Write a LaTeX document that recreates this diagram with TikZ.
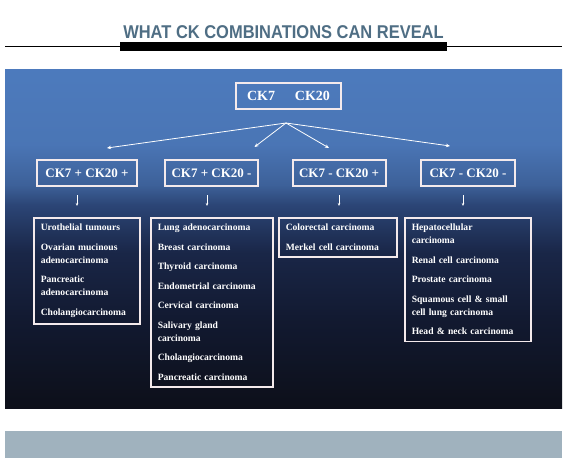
\documentclass[tikz,border=0pt]{standalone}
\usepackage{fontspec}
\setmainfont{Liberation Serif}
\newfontfamily\titlefont{Liberation Sans}[FakeStretch=0.89]
\usetikzlibrary{arrows.meta}
\definecolor{titleblue}{HTML}{4F6E84}
\definecolor{boxline}{HTML}{F4EAEC}
\definecolor{footgrey}{HTML}{A0B2BE}
\pgfdeclareverticalshading{panelfade}{100bp}{rgb(0bp)=(0.05,0.06,0.10); rgb(25bp)=(0.05,0.06,0.10); rgb(38bp)=(0.07,0.10,0.19); rgb(48bp)=(0.10,0.15,0.28); rgb(55bp)=(0.17,0.27,0.46); rgb(58bp)=(0.24,0.38,0.60); rgb(64bp)=(0.29,0.46,0.71); rgb(75bp)=(0.30,0.48,0.74); rgb(100bp)=(0.30,0.48,0.74)}
\tikzset{
  rootbox/.style={draw=boxline, line width=2pt, text=white, font=\bfseries\fontsize{14}{16}\selectfont, minimum width=105pt, minimum height=26pt, inner sep=0pt},
  midbox/.style={draw=boxline, line width=2pt, text=white, font=\bfseries\fontsize{13}{15}\selectfont, minimum height=26pt, inner sep=0pt},
  listbox/.style={draw=boxline, line width=1.5pt, text=white, anchor=north west, align=left, inner xsep=7pt, inner ysep=6.5pt, font=\bfseries\fontsize{9.6}{13}\selectfont},
  fan/.style={draw=white, line width=0.8pt, -{Stealth[length=4pt,width=3.5pt]}},
  drop/.style={draw=white, line width=0.6pt, shorten <=8pt, -{Stealth[length=3pt,width=2.5pt]}}
}
\begin{document}
\begin{tikzpicture}[x=1pt, y=-1pt]
  \useasboundingbox (0,0) rectangle (567,468);
  \fill[white] (0,0) rectangle (567,468);
  \fill[black] (120,42) rectangle (447,51);
  \draw[line width=0.8pt] (5,46) -- (562,46);
  \node[font=\titlefont\bfseries\fontsize{18.5}{20}\selectfont, text=titleblue, inner sep=0pt] (title) at (283.5,32.3) {WHAT CK COMBINATIONS CAN REVEAL};
  \shade[shading=panelfade] (5,70) rectangle (562,408);
  \fill[footgrey] (5,431) rectangle (562,458);

  \node[rootbox] (root) at (288.5,96) {CK7\hspace{20pt}CK20};

  \node[midbox, minimum width=100pt] (c1) at (87,173) {CK7 + CK20 +};
  \node[midbox, minimum width=93pt] (c2) at (211.5,173) {CK7 + CK20 -};
  \node[midbox, minimum width=93pt] (c3) at (339,173) {CK7 - CK20 +};
  \node[midbox, minimum width=94pt] (c4) at (468,173) {CK7 - CK20 -};

  \coordinate (fork) at (286,123);
  \coordinate (a1) at (107,148);
  \coordinate (a2) at (254.5,147);
  \coordinate (a3) at (329,148);
  \coordinate (a4) at (450,146);
  \draw[fan] (fork) -- (a1);
  \draw[fan] (fork) -- (a2);
  \draw[fan] (fork) -- (a3);
  \draw[fan] (fork) -- (a4);

  \node[listbox, text width=92pt] (d1) at (33,217) {Urothelial tumours\\[6.5pt]
    Ovarian mucinous\\ adenocarcinoma\\[6.5pt]
    Pancreatic\\ adenocarcinoma\\[6.5pt]
    Cholangiocarcinoma};
  \node[listbox, text width=108pt] (d2) at (150,217) {Lung adenocarcinoma\\[6.5pt]
    Breast carcinoma\\[6.5pt]
    Thyroid carcinoma\\[6.5pt]
    Endometrial carcinoma\\[6.5pt]
    Cervical carcinoma\\[6.5pt]
    Salivary gland\\ carcinoma\\[6.5pt]
    Cholangiocarcinoma\\[6.5pt]
    Pancreatic carcinoma};
  \node[listbox, text width=104pt] (d3) at (278,217) {Colorectal carcinoma\\[6.5pt]
    Merkel cell carcinoma};
  \node[listbox, text width=112pt] (d4) at (404,217) {Hepatocellular\\ carcinoma\\[6.5pt]
    Renal cell carcinoma\\[6.5pt]
    Prostate carcinoma\\[6.5pt]
    Squamous cell \& small\\ cell lung carcinoma\\[6.5pt]
    Head \& neck carcinoma};

  \coordinate (b1) at (77,206);
  \coordinate (b2) at (207,206);
  \coordinate (b3) at (339,206);
  \coordinate (b4) at (463,206);
  \draw[drop] (c1.south -| b1) -- (b1);
  \draw[drop] (c2.south -| b2) -- (b2);
  \draw[drop] (c3.south -| b3) -- (b3);
  \draw[drop] (c4.south -| b4) -- (b4);
\end{tikzpicture}
\end{document}
